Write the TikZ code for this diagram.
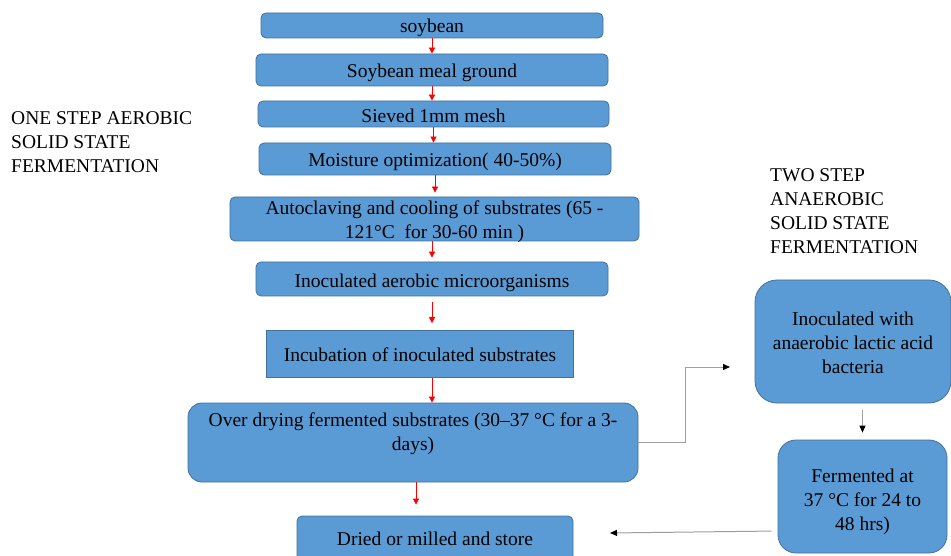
\documentclass[tikz,border=0pt]{standalone}
\usepackage{fontspec}
\setmainfont{Liberation Serif}
\usetikzlibrary{arrows.meta,calc}
\definecolor{boxfill}{HTML}{5B9BD5}
\definecolor{boxline}{HTML}{41719C}
\begin{document}
\begin{tikzpicture}[x=1pt,y=-1pt,
  every node/.style={font=\fontsize{19.5}{24}\selectfont},
  stepbox/.style={draw=boxline,fill=boxfill,line width=0.8pt,rounded corners=5pt,inner sep=0pt},
  txt/.style={align=center,inner sep=0pt,text=black},
  redarr/.style={draw=red,line width=0.8pt,-{Triangle[length=6pt,width=6pt,red]}},
  grayarr/.style={draw=gray!75,line width=1pt,-{Triangle[length=7pt,width=6pt,black]}},
  lbl/.style={align=left,inner sep=0pt,anchor=west}]
\clip (0,0) rectangle (951,556);
\fill[white] (0,0) rectangle (951,556);
\node[stepbox,minimum width=342pt,minimum height=25pt] (s1) at (432,25.5) {};
\node[stepbox,minimum width=352pt,minimum height=32pt] (s2) at (432,70) {};
\node[stepbox,minimum width=351pt,minimum height=26pt] (s3) at (433.5,114) {};
\node[stepbox,minimum width=352pt,minimum height=32pt] (s4) at (435,159) {};
\node[stepbox,minimum width=409pt,minimum height=44pt] (s5) at (434.5,219) {};
\node[stepbox,minimum width=352pt,minimum height=34pt] (s6) at (432,279) {};
\node[stepbox,rounded corners=0pt,minimum width=307pt,minimum height=47pt] (s7) at (420,354) {};
\node[stepbox,rounded corners=14pt,minimum width=450pt,minimum height=79pt] (s8) at (413,442.5) {};
\node[stepbox,minimum width=276pt,minimum height=48pt] (s9) at (435,540) {};
\node[stepbox,rounded corners=22pt,minimum width=196pt,minimum height=123pt] (an) at (853,341.5) {};
\node[stepbox,rounded corners=18pt,minimum width=169pt,minimum height=113pt] (fe) at (862.5,496.5) {};
\node[txt] (s1t) at (432,28) {soybean};
\node[txt] (s2t) at (432,73) {Soybean meal ground};
\node[txt] (s3t) at (433.5,116) {Sieved 1mm mesh};
\node[txt] (s4t) at (435,161.5) {Moisture optimization( 40-50\%)};
\node[txt] (s5t) at (434.5,222) {Autoclaving and cooling of substrates (65 -\\121°C\ \ for 30-60 min )};
\node[txt] (s6t) at (432,283) {Inoculated aerobic microorganisms};
\node[txt] (s7t) at (420,355) {Incubation of inoculated substrates};
\node[txt] (s8t) at (413,434) {Over drying fermented substrates (30–37 °C for a 3-\\days)};
\node[txt] (s9t) at (435,538.5) {Dried or milled and store};
\node[txt] (ant) at (853,343) {Inoculated with\\anaerobic lactic acid\\bacteria};
\node[txt] (fet) at (862.5,501.5) {Fermented at\\37 °C for 24 to\\48 hrs)};
\node[lbl] (l1) at (11,142) {ONE STEP AEROBIC\\SOLID STATE\\FERMENTATION};
\node[lbl] (l2) at (770,211) {TWO STEP\\ANAEROBIC\\SOLID STATE\\FERMENTATION};
\coordinate (t1) at (730,367);
\coordinate (t2) at (610,533);
\draw[redarr] (s1.south) -- (s1.south |- s2.north);
\draw[redarr] (s2.south) -- (s2.south |- s3.north);
\draw[redarr] (s3.south -| s3.north) -- (s3.south |- s4.north);
\draw[redarr,shorten >=4pt] (s4.south) -- (s4.south |- s5.north);
\draw[redarr,shorten >=4pt] (s6.north |- s5.south) -- (s6.north);
\draw[redarr,shorten <=6pt,shorten >=7pt] (s6.south) -- (s6.south |- s7.north);
\draw[redarr] ([xshift=12pt]s7.south) -- ([xshift=12pt]s7.south |- s8.north);
\draw[redarr,shorten >=11pt] ([xshift=3pt]s8.south) -- ([xshift=3pt]s8.south |- s9.north);
\draw[grayarr] (s8.east) -- ++(47,0) |- (t1);
\draw[grayarr,shorten <=7pt,shorten >=7pt] (fe.north |- an.south) -- (fe.north);
\draw[grayarr,shorten <=6pt] ([yshift=-34.5pt]fe.west) -- (t2);
\end{tikzpicture}
\end{document}
